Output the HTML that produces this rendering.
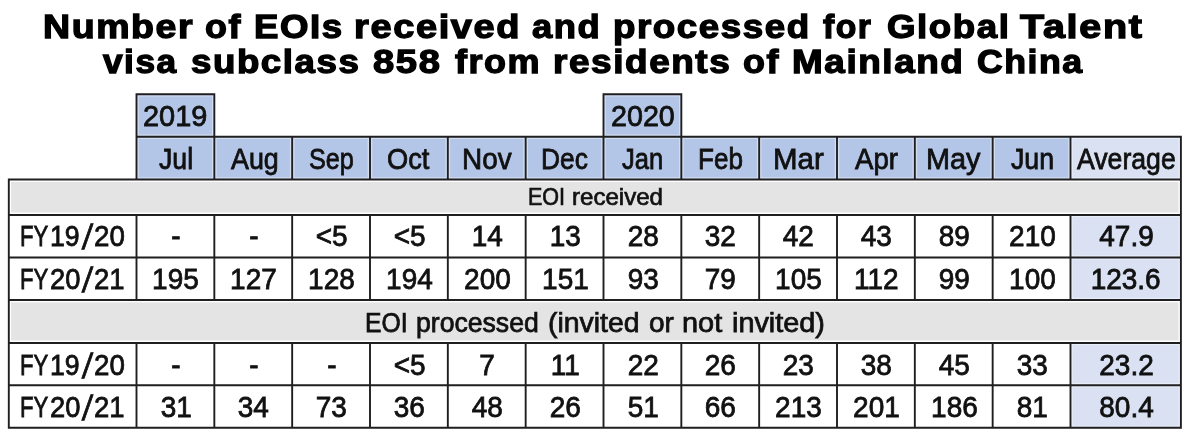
<!DOCTYPE html>
<html lang="en">
<head>
<meta charset="utf-8">
<title>Number of EOIs received and processed for Global Talent visa subclass 858</title>
<style>
html,body{margin:0;padding:0;background:#fff}
body{width:1189px;height:432px;position:relative;overflow:hidden;font-family:"Liberation Sans",Arial,sans-serif;color:#111}
#pg{position:absolute;left:0;top:0;width:1189px;height:432px;overflow:hidden;background:#fff;filter:blur(0.35px)}
.c,.t,.b{position:absolute;box-sizing:border-box}
.hl{position:absolute;left:0;width:1189px;height:40px}
.g{position:absolute;left:0;top:0}
.t{text-align:center;height:40px;line-height:40px;font-size:29.3px;white-space:nowrap;-webkit-text-stroke:0.8px #111}
.t span{display:inline-block}
.p{position:absolute;line-height:40px;height:40px;font-size:29.3px;white-space:nowrap;color:#111;-webkit-text-stroke:0.8px #111;transform-origin:0 50%}
.t.s{font-size:26px}
.h{position:absolute;left:0;font-weight:bold;line-height:40px;height:40px;white-space:nowrap;color:#000;letter-spacing:1.4px;-webkit-text-stroke-color:#000;transform-origin:0 50%}
.w{position:absolute;left:0;line-height:40px;height:40px;white-space:nowrap;color:#111;-webkit-text-stroke-color:#111;transform-origin:0 50%}
</style>
</head>
<body>
<div id="pg">
<svg class="g" width="1189" height="432" viewBox="0 0 1189 432">
<rect x="136.50" y="94.30" width="77.83" height="42.50" fill="#b4c6e7"/>
<rect x="603.50" y="94.30" width="77.83" height="42.50" fill="#b4c6e7"/>
<rect x="136.50" y="136.80" width="934.00" height="42.76" fill="#b4c6e7"/>
<rect x="1070.50" y="136.80" width="110.40" height="42.76" fill="#d9e1f2"/>
<rect x="11.10" y="181.96" width="1167.50" height="30.59" fill="#e4e4e4"/>
<rect x="11.10" y="302.35" width="1167.50" height="38.20" fill="#e4e4e4"/>
<rect x="1070.50" y="214.95" width="110.40" height="42.60" fill="#d9e1f2"/>
<rect x="1070.50" y="257.55" width="110.40" height="42.40" fill="#d9e1f2"/>
<rect x="1070.50" y="342.95" width="110.40" height="42.35" fill="#d9e1f2"/>
<rect x="1070.50" y="385.30" width="110.40" height="42.40" fill="#d9e1f2"/>
<path d="M136.50 93.35V137.75M214.33 93.35V137.75M603.50 93.35V137.75M681.33 93.35V137.75M135.55 94.30H215.28M602.55 94.30H682.28M135.55 136.80H1181.85M136.50 135.85V180.51M214.33 135.85V180.51M292.17 135.85V180.51M370.00 135.85V180.51M447.83 135.85V180.51M525.66 135.85V180.51M603.50 135.85V180.51M681.33 135.85V180.51M759.16 135.85V180.51M837.00 135.85V180.51M914.83 135.85V180.51M992.66 135.85V180.51M1070.50 135.85V180.51M1180.90 135.85V180.51M7.85 179.56H1181.85M7.85 214.95H1181.85M7.85 257.55H1181.85M7.85 299.95H1181.85M7.85 342.95H1181.85M7.85 385.30H1181.85M7.85 427.70H1181.85M8.80 178.61V428.65M1180.90 178.61V428.65M136.50 214.00V258.50M214.33 214.00V258.50M292.17 214.00V258.50M370.00 214.00V258.50M447.83 214.00V258.50M525.66 214.00V258.50M603.50 214.00V258.50M681.33 214.00V258.50M759.16 214.00V258.50M837.00 214.00V258.50M914.83 214.00V258.50M992.66 214.00V258.50M1070.50 214.00V258.50M136.50 256.60V300.90M214.33 256.60V300.90M292.17 256.60V300.90M370.00 256.60V300.90M447.83 256.60V300.90M525.66 256.60V300.90M603.50 256.60V300.90M681.33 256.60V300.90M759.16 256.60V300.90M837.00 256.60V300.90M914.83 256.60V300.90M992.66 256.60V300.90M1070.50 256.60V300.90M136.50 342.00V386.25M214.33 342.00V386.25M292.17 342.00V386.25M370.00 342.00V386.25M447.83 342.00V386.25M525.66 342.00V386.25M603.50 342.00V386.25M681.33 342.00V386.25M759.16 342.00V386.25M837.00 342.00V386.25M914.83 342.00V386.25M992.66 342.00V386.25M1070.50 342.00V386.25M136.50 384.35V428.65M214.33 384.35V428.65M292.17 384.35V428.65M370.00 384.35V428.65M447.83 384.35V428.65M525.66 384.35V428.65M603.50 384.35V428.65M681.33 384.35V428.65M759.16 384.35V428.65M837.00 384.35V428.65M914.83 384.35V428.65M992.66 384.35V428.65M1070.50 384.35V428.65" fill="none" stroke="#fff" stroke-opacity="0.4" stroke-width="4.6"/>
<path d="M136.50 93.35V137.75M214.33 93.35V137.75M603.50 93.35V137.75M681.33 93.35V137.75M135.55 94.30H215.28M602.55 94.30H682.28M135.55 136.80H1181.85M136.50 135.85V180.51M214.33 135.85V180.51M292.17 135.85V180.51M370.00 135.85V180.51M447.83 135.85V180.51M525.66 135.85V180.51M603.50 135.85V180.51M681.33 135.85V180.51M759.16 135.85V180.51M837.00 135.85V180.51M914.83 135.85V180.51M992.66 135.85V180.51M1070.50 135.85V180.51M1180.90 135.85V180.51M7.85 179.56H1181.85M7.85 214.95H1181.85M7.85 257.55H1181.85M7.85 299.95H1181.85M7.85 342.95H1181.85M7.85 385.30H1181.85M7.85 427.70H1181.85M8.80 178.61V428.65M1180.90 178.61V428.65M136.50 214.00V258.50M214.33 214.00V258.50M292.17 214.00V258.50M370.00 214.00V258.50M447.83 214.00V258.50M525.66 214.00V258.50M603.50 214.00V258.50M681.33 214.00V258.50M759.16 214.00V258.50M837.00 214.00V258.50M914.83 214.00V258.50M992.66 214.00V258.50M1070.50 214.00V258.50M136.50 256.60V300.90M214.33 256.60V300.90M292.17 256.60V300.90M370.00 256.60V300.90M447.83 256.60V300.90M525.66 256.60V300.90M603.50 256.60V300.90M681.33 256.60V300.90M759.16 256.60V300.90M837.00 256.60V300.90M914.83 256.60V300.90M992.66 256.60V300.90M1070.50 256.60V300.90M136.50 342.00V386.25M214.33 342.00V386.25M292.17 342.00V386.25M370.00 342.00V386.25M447.83 342.00V386.25M525.66 342.00V386.25M603.50 342.00V386.25M681.33 342.00V386.25M759.16 342.00V386.25M837.00 342.00V386.25M914.83 342.00V386.25M992.66 342.00V386.25M1070.50 342.00V386.25M136.50 384.35V428.65M214.33 384.35V428.65M292.17 384.35V428.65M370.00 384.35V428.65M447.83 384.35V428.65M525.66 384.35V428.65M603.50 384.35V428.65M681.33 384.35V428.65M759.16 384.35V428.65M837.00 384.35V428.65M914.83 384.35V428.65M992.66 384.35V428.65M1070.50 384.35V428.65" fill="none" stroke="#1f1f21" stroke-width="1.9"/>
</svg>
<span class="p" style="left:142.74px;top:96.35px;transform:scaleX(0.9876)">2019</span>
<span class="p" style="left:610.55px;top:96.35px;transform:scaleX(0.9785)">2020</span>
<span class="p" style="left:158.99px;top:139.08px;transform:scaleX(0.9105)">Jul</span>
<span class="p" style="left:230.69px;top:139.08px;transform:scaleX(0.9159)">Aug</span>
<span class="p" style="left:309.06px;top:139.08px;transform:scaleX(0.8610)">Sep</span>
<span class="p" style="left:386.95px;top:139.08px;transform:scaleX(0.9298)">Oct</span>
<span class="p" style="left:462.04px;top:139.08px;transform:scaleX(0.9521)">Nov</span>
<span class="p" style="left:541.26px;top:139.08px;transform:scaleX(0.8986)">Dec</span>
<span class="p" style="left:621.69px;top:139.08px;transform:scaleX(0.8724)">Jan</span>
<span class="p" style="left:698.18px;top:139.08px;transform:scaleX(0.8893)">Feb</span>
<span class="p" style="left:773.03px;top:139.08px;transform:scaleX(1.0050)">Mar</span>
<span class="p" style="left:854.90px;top:139.08px;transform:scaleX(0.9425)">Apr</span>
<span class="p" style="left:925.88px;top:139.08px;transform:scaleX(0.9841)">May</span>
<span class="p" style="left:1010.59px;top:139.08px;transform:scaleX(0.9118)">Jun</span>
<span class="p" style="left:1076.69px;top:139.08px;transform:scaleX(0.9095)">Average</span>
<div class="fy"><span class="p" style="left:20.35px;top:216.35px;transform:scaleX(0.7560)">FY</span><span class="p" style="left:50.03px;top:216.35px;transform:scaleX(0.9116)">19</span><span class="p" style="left:83.19px;top:217.35px;transform:skewX(-6.5deg) scale(1.050,1.190)">/</span><span class="p" style="left:93.58px;top:216.35px;transform:scaleX(0.9463)">20</span></div>
<div class="t" style="left:136.90px;top:216.35px;width:77.83px"><span style="transform:scaleX(0.955)">-</span></div>
<div class="t" style="left:214.73px;top:216.35px;width:77.83px"><span style="transform:scaleX(0.955)">-</span></div>
<div class="t" style="left:292.57px;top:216.35px;width:77.83px"><span style="transform:scaleX(0.955)">&lt;5</span></div>
<div class="t" style="left:370.40px;top:216.35px;width:77.83px"><span style="transform:scaleX(0.955)">&lt;5</span></div>
<div class="t" style="left:448.23px;top:216.35px;width:77.83px"><span style="transform:scaleX(0.955)">14</span></div>
<div class="t" style="left:526.06px;top:216.35px;width:77.83px"><span style="transform:scaleX(0.955)">13</span></div>
<div class="t" style="left:603.90px;top:216.35px;width:77.83px"><span style="transform:scaleX(0.955)">28</span></div>
<div class="t" style="left:681.73px;top:216.35px;width:77.83px"><span style="transform:scaleX(0.955)">32</span></div>
<div class="t" style="left:759.56px;top:216.35px;width:77.83px"><span style="transform:scaleX(0.955)">42</span></div>
<div class="t" style="left:837.40px;top:216.35px;width:77.83px"><span style="transform:scaleX(0.955)">43</span></div>
<div class="t" style="left:915.23px;top:216.35px;width:77.83px"><span style="transform:scaleX(0.955)">89</span></div>
<div class="t" style="left:993.06px;top:216.35px;width:77.83px"><span style="transform:scaleX(0.955)">210</span></div>
<div class="t" style="left:1070.90px;top:216.35px;width:110.40px"><span style="transform:scaleX(0.955)">47.9</span></div>
<div class="fy"><span class="p" style="left:20.35px;top:258.85px;transform:scaleX(0.7560)">FY</span><span class="p" style="left:49.65px;top:258.85px;transform:scaleX(0.9316)">20</span><span class="p" style="left:83.19px;top:259.85px;transform:skewX(-6.5deg) scale(1.050,1.190)">/</span><span class="p" style="left:93.59px;top:258.85px;transform:scaleX(0.9384)">21</span></div>
<div class="t" style="left:136.90px;top:258.85px;width:77.83px"><span style="transform:scaleX(0.955)">195</span></div>
<div class="t" style="left:214.73px;top:258.85px;width:77.83px"><span style="transform:scaleX(0.955)">127</span></div>
<div class="t" style="left:292.57px;top:258.85px;width:77.83px"><span style="transform:scaleX(0.955)">128</span></div>
<div class="t" style="left:370.40px;top:258.85px;width:77.83px"><span style="transform:scaleX(0.955)">194</span></div>
<div class="t" style="left:448.23px;top:258.85px;width:77.83px"><span style="transform:scaleX(0.955)">200</span></div>
<div class="t" style="left:526.06px;top:258.85px;width:77.83px"><span style="transform:scaleX(0.955)">151</span></div>
<div class="t" style="left:603.90px;top:258.85px;width:77.83px"><span style="transform:scaleX(0.955)">93</span></div>
<div class="t" style="left:681.73px;top:258.85px;width:77.83px"><span style="transform:scaleX(0.955)">79</span></div>
<div class="t" style="left:759.56px;top:258.85px;width:77.83px"><span style="transform:scaleX(0.955)">105</span></div>
<div class="t" style="left:837.40px;top:258.85px;width:77.83px"><span style="transform:scaleX(0.955)">112</span></div>
<div class="t" style="left:915.23px;top:258.85px;width:77.83px"><span style="transform:scaleX(0.955)">99</span></div>
<div class="t" style="left:993.06px;top:258.85px;width:77.83px"><span style="transform:scaleX(0.955)">100</span></div>
<div class="t" style="left:1070.90px;top:258.85px;width:110.40px"><span style="transform:scaleX(0.955)">123.6</span></div>
<div class="fy"><span class="p" style="left:20.35px;top:345.23px;transform:scaleX(0.7560)">FY</span><span class="p" style="left:50.03px;top:345.23px;transform:scaleX(0.9116)">19</span><span class="p" style="left:83.19px;top:346.23px;transform:skewX(-6.5deg) scale(1.050,1.190)">/</span><span class="p" style="left:93.58px;top:345.23px;transform:scaleX(0.9463)">20</span></div>
<div class="t" style="left:136.90px;top:345.23px;width:77.83px"><span style="transform:scaleX(0.955)">-</span></div>
<div class="t" style="left:214.73px;top:345.23px;width:77.83px"><span style="transform:scaleX(0.955)">-</span></div>
<div class="t" style="left:292.57px;top:345.23px;width:77.83px"><span style="transform:scaleX(0.955)">-</span></div>
<div class="t" style="left:370.40px;top:345.23px;width:77.83px"><span style="transform:scaleX(0.955)">&lt;5</span></div>
<div class="t" style="left:448.23px;top:345.23px;width:77.83px"><span style="transform:scaleX(0.955)">7</span></div>
<div class="t" style="left:526.06px;top:345.23px;width:77.83px"><span style="transform:scaleX(0.955)">11</span></div>
<div class="t" style="left:603.90px;top:345.23px;width:77.83px"><span style="transform:scaleX(0.955)">22</span></div>
<div class="t" style="left:681.73px;top:345.23px;width:77.83px"><span style="transform:scaleX(0.955)">26</span></div>
<div class="t" style="left:759.56px;top:345.23px;width:77.83px"><span style="transform:scaleX(0.955)">23</span></div>
<div class="t" style="left:837.40px;top:345.23px;width:77.83px"><span style="transform:scaleX(0.955)">38</span></div>
<div class="t" style="left:915.23px;top:345.23px;width:77.83px"><span style="transform:scaleX(0.955)">45</span></div>
<div class="t" style="left:993.06px;top:345.23px;width:77.83px"><span style="transform:scaleX(0.955)">33</span></div>
<div class="t" style="left:1070.90px;top:345.23px;width:110.40px"><span style="transform:scaleX(0.955)">23.2</span></div>
<div class="fy"><span class="p" style="left:20.35px;top:386.60px;transform:scaleX(0.7560)">FY</span><span class="p" style="left:49.65px;top:386.60px;transform:scaleX(0.9316)">20</span><span class="p" style="left:83.19px;top:387.60px;transform:skewX(-6.5deg) scale(1.050,1.190)">/</span><span class="p" style="left:93.59px;top:386.60px;transform:scaleX(0.9384)">21</span></div>
<div class="t" style="left:136.90px;top:386.60px;width:77.83px"><span style="transform:scaleX(0.955)">31</span></div>
<div class="t" style="left:214.73px;top:386.60px;width:77.83px"><span style="transform:scaleX(0.955)">34</span></div>
<div class="t" style="left:292.57px;top:386.60px;width:77.83px"><span style="transform:scaleX(0.955)">73</span></div>
<div class="t" style="left:370.40px;top:386.60px;width:77.83px"><span style="transform:scaleX(0.955)">36</span></div>
<div class="t" style="left:448.23px;top:386.60px;width:77.83px"><span style="transform:scaleX(0.955)">48</span></div>
<div class="t" style="left:526.06px;top:386.60px;width:77.83px"><span style="transform:scaleX(0.955)">26</span></div>
<div class="t" style="left:603.90px;top:386.60px;width:77.83px"><span style="transform:scaleX(0.955)">51</span></div>
<div class="t" style="left:681.73px;top:386.60px;width:77.83px"><span style="transform:scaleX(0.955)">66</span></div>
<div class="t" style="left:759.56px;top:386.60px;width:77.83px"><span style="transform:scaleX(0.955)">213</span></div>
<div class="t" style="left:837.40px;top:386.60px;width:77.83px"><span style="transform:scaleX(0.955)">201</span></div>
<div class="t" style="left:915.23px;top:386.60px;width:77.83px"><span style="transform:scaleX(0.955)">186</span></div>
<div class="t" style="left:993.06px;top:386.60px;width:77.83px"><span style="transform:scaleX(0.955)">81</span></div>
<div class="t" style="left:1070.90px;top:386.60px;width:110.40px"><span style="transform:scaleX(0.955)">80.4</span></div>
<div class="hl" style="top:6.88px;font-size:32.8px;-webkit-text-stroke-width:1.3px">
<span class="h" style="left:42.74px;transform:scaleX(1.1431)">Number</span>
<span class="h" style="left:204.51px;transform:scaleX(1.0942)">of</span>
<span class="h" style="left:253.78px;transform:scaleX(1.1160)">EOIs</span>
<span class="h" style="left:353.60px;transform:scaleX(1.1586)">received</span>
<span class="h" style="left:532.23px;transform:scaleX(1.1070)">and</span>
<span class="h" style="left:612.87px;transform:scaleX(1.1196)">processed</span>
<span class="h" style="left:822.80px;transform:scaleX(1.0269)">for</span>
<span class="h" style="left:887.47px;transform:scaleX(1.1175)">Global</span>
<span class="h" style="left:1019.80px;transform:scaleX(1.2055)">Talent</span>
</div>
<div class="hl" style="top:41.88px;font-size:32.8px;-webkit-text-stroke-width:1.3px">
<span class="h" style="left:103.10px;transform:scaleX(1.0743)">visa</span>
<span class="h" style="left:191.23px;transform:scaleX(1.1171)">subclass</span>
<span class="h" style="left:373.21px;transform:scaleX(1.1631)">858</span>
<span class="h" style="left:454.55px;transform:scaleX(1.0966)">from</span>
<span class="h" style="left:553.48px;transform:scaleX(1.1258)">residents</span>
<span class="h" style="left:743.38px;transform:scaleX(1.0943)">of</span>
<span class="h" style="left:791.69px;transform:scaleX(1.1246)">Mainland</span>
<span class="h" style="left:977.07px;transform:scaleX(1.0866)">China</span>
</div>
<div class="hl" style="top:177.38px;font-size:24.3px;-webkit-text-stroke-width:0.7px">
<span class="w" style="left:528.28px;transform:scaleX(0.8861)">EOI</span>
<span class="w" style="left:571.95px;transform:scaleX(0.9910)">received</span>
</div>
<div class="hl" style="top:302.57px;font-size:27.5px;-webkit-text-stroke-width:0.75px">
<span class="w" style="left:365.14px;transform:scaleX(0.8988)">EOI</span>
<span class="w" style="left:416.09px;transform:scaleX(0.9675)">processed</span>
<span class="w" style="left:548.36px;transform:scaleX(1.0328)">(invited</span>
<span class="w" style="left:649.38px;transform:scaleX(1.0188)">or</span>
<span class="w" style="left:681.90px;transform:scaleX(1.0517)">not</span>
<span class="w" style="left:731.83px;transform:scaleX(1.0486)">invited)</span>
</div>
</div>
</body>
</html>
